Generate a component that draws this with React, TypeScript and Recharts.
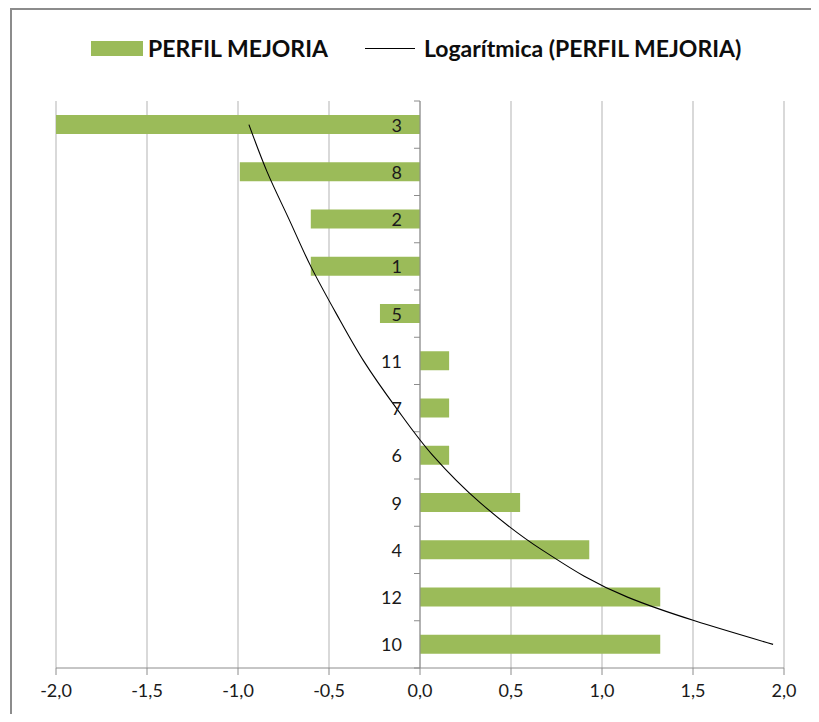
import { ComposedChart, Bar, Line, XAxis, YAxis, CartesianGrid, ReferenceLine, LabelList } from "recharts"

// categories top to bottom, as shown
const CATEGORIES = ["3", "8", "2", "1", "5", "11", "7", "6", "9", "4", "12", "10"]
const MEJORIA = [-2.0, -0.99, -0.6, -0.6, -0.22, 0.16, 0.16, 0.16, 0.55, 0.93, 1.32, 1.32]
// logarithmic trend at each category row
const TREND = [-0.94, -0.84, -0.72, -0.6, -0.46, -0.31, -0.13, 0.07, 0.33, 0.67, 1.14, 1.94]
const X_TICKS = [-2, -1.5, -1, -0.5, 0, 0.5, 1, 1.5, 2]

const GREEN = "#9bbb59"
const AXIS = "#8c8c8c"
const FONT = "Lato, 'Open Sans', sans-serif"

const data = CATEGORIES.map((cat, i) => ({ cat, value: MEJORIA[i], trend: TREND[i] }))

const fmt = (v: number) => v.toFixed(1).replace(".", ",")

function CatLabel(p: any) {
  const vb = p.viewBox && p.viewBox.x !== undefined ? p.viewBox : p
  const { x, y, width, height } = vb
  const v = MEJORIA[p.index] ?? 0
  const zero = width < 0 ? x : v < 0 ? x + width : x
  return (
    <text x={zero - 18} y={y + height / 2} textAnchor="end" dominantBaseline="central" fontSize={18} fontFamily={FONT} fill="#1a1a1a">
      {p.value}
    </text>
  )
}

// vertical axis drawn at x = 0 with tick marks between categories
function ZeroAxis(p: any) {
  const top = Math.min(p.y1, p.y2)
  const bottom = Math.max(p.y1, p.y2)
  const step = (bottom - top) / CATEGORIES.length
  return (
    <g>
      <line x1={p.x1} x2={p.x1} y1={top} y2={bottom} stroke={AXIS} strokeWidth={1} />
      {Array.from({ length: CATEGORIES.length + 1 }).map((_, i) => (
        <line key={i} x1={p.x1 - 6} x2={p.x1} y1={top + i * step} y2={top + i * step} stroke={AXIS} strokeWidth={1} />
      ))}
    </g>
  )
}

export default function App() {
  return (
    <div style={{ position: "relative", width: 819, height: 722, margin: -8, overflow: "hidden", background: "#fff" }}>
      <div style={{ position: "absolute", left: 10, top: 8, width: 840, height: 740, border: `2px solid ${AXIS}`, boxSizing: "border-box" }} />
      <div style={{ position: "absolute", top: 34, left: 0, width: 819, height: 28, fontFamily: FONT, fontWeight: 700, fontSize: 23, color: "#0d0d0d" }}>
        <div style={{ position: "absolute", left: 91, top: 7, width: 52, height: 15, background: GREEN }} />
        <div style={{ position: "absolute", left: 148, top: 0, lineHeight: "28px" }}>PERFIL MEJORIA</div>
        <div style={{ position: "absolute", left: 365, top: 14, width: 50, height: 1, background: "#000" }} />
        <div style={{ position: "absolute", left: 424, top: 0, lineHeight: "28px" }}>Logarítmica (PERFIL MEJORIA)</div>
      </div>
      <div style={{ position: "absolute", left: 0, top: 0 }}>
        <ComposedChart width={819} height={722} data={data} layout="vertical" margin={{ top: 101, right: 35, left: 56, bottom: 24 }}>
          <CartesianGrid horizontal={false} stroke="#b3b3b3" />
          <XAxis
            type="number"
            domain={[-2, 2]}
            ticks={X_TICKS}
            tickFormatter={fmt}
            height={30}
            tickSize={7}
            tickMargin={9}
            stroke={AXIS}
            tick={{ fontSize: 18, fontFamily: FONT, fill: "#1a1a1a" }}
          />
          <YAxis type="category" dataKey="cat" hide width={0} />
          <Bar dataKey="value" fill={GREEN} barSize={19} isAnimationActive={false}>
            <LabelList dataKey="cat" content={CatLabel} />
          </Bar>
          <ReferenceLine x={0} shape={ZeroAxis} />
          <Line dataKey="trend" type="monotone" stroke="#000" strokeWidth={1.1} dot={false} isAnimationActive={false} />
        </ComposedChart>
      </div>
    </div>
  )
}
